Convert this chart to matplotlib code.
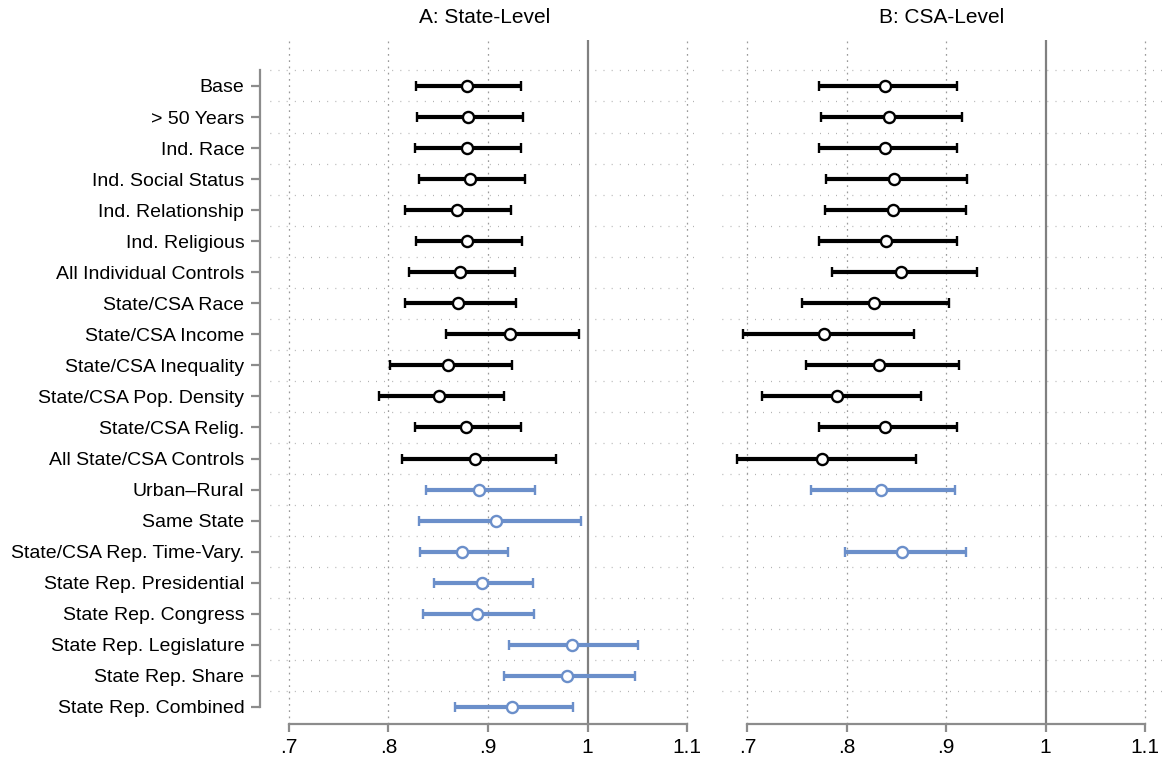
import numpy as np
import matplotlib
matplotlib.use('Agg')
import matplotlib.pyplot as plt

plt.rcParams['font.family'] = ['Liberation Sans', 'DejaVu Sans']

# Specification labels (top to bottom)
labels = ['Base', '> 50 Years', 'Ind. Race', 'Ind. Social Status', 'Ind. Relationship',
          'Ind. Religious', 'All Individual Controls', 'State/CSA Race', 'State/CSA Income',
          'State/CSA Inequality', 'State/CSA Pop. Density', 'State/CSA Relig.',
          'All State/CSA Controls', 'Urban\u2013Rural', 'Same State',
          'State/CSA Rep. Time-Vary.', 'State Rep. Presidential', 'State Rep. Congress',
          'State Rep. Legislature', 'State Rep. Share', 'State Rep. Combined']
# which specs are robustness checks (drawn in blue)
robust = [False] * 13 + [True] * 8

# Panel A: state-level estimates and 95% CI
state_est = [0.879, 0.880, 0.879, 0.882, 0.869, 0.879, 0.872, 0.870, 0.922, 0.860, 0.851,
             0.878, 0.887, 0.891, 0.908, 0.874, 0.894, 0.889, 0.984, 0.979, 0.924]
state_lo = [0.828, 0.829, 0.827, 0.831, 0.817, 0.828, 0.821, 0.817, 0.858, 0.802, 0.791,
            0.827, 0.814, 0.838, 0.831, 0.832, 0.846, 0.835, 0.921, 0.916, 0.867]
state_hi = [0.933, 0.935, 0.933, 0.937, 0.923, 0.934, 0.927, 0.928, 0.991, 0.924, 0.916,
            0.933, 0.968, 0.947, 0.993, 0.920, 0.945, 0.946, 1.051, 1.048, 0.985]

# Panel B: CSA-level estimates (nan = not estimated)
nan = np.nan
csa_est = [0.838, 0.842, 0.838, 0.847, 0.846, 0.839, 0.855, 0.827, 0.777, 0.832, 0.790,
           0.838, 0.775, 0.834, nan, 0.856, nan, nan, nan, nan, nan]
csa_lo = [0.772, 0.774, 0.772, 0.779, 0.778, 0.772, 0.785, 0.755, 0.696, 0.759, 0.715,
          0.772, 0.690, 0.764, nan, 0.798, nan, nan, nan, nan, nan]
csa_hi = [0.911, 0.916, 0.911, 0.921, 0.920, 0.911, 0.931, 0.903, 0.868, 0.913, 0.875,
          0.911, 0.870, 0.909, nan, 0.920, nan, nan, nan, nan, nan]

xticks = [0.7, 0.8, 0.9, 1.0, 1.1]
xticklabels = ['.7', '.8', '.9', '1', '1.1']

BLUE = '#6b8fca'
GRID = '#9a9a9a'
AXC = '#8c8c8c'
FS = 14

W, H = 1162, 766
fig = plt.figure(figsize=(W / 100, H / 100), dpi=100)
y_top, y_bot = 40, 724
axA = fig.add_axes([270 / W, 1 - y_bot / H, 430 / W, (y_bot - y_top) / H])
axB = fig.add_axes([722 / W, 1 - y_bot / H, 440 / W, (y_bot - y_top) / H])

ypos = np.arange(1, len(labels) + 1)


def draw_panel(ax, est, lo, hi, xlim, title):
    ax.set_xlim(*xlim)
    ax.set_ylim(21.55, -0.48)
    for s in ax.spines.values():
        s.set_visible(False)

    # dotted grid
    for yy in np.arange(0.5, 21, 1.0):
        ax.axhline(yy, color=GRID, lw=0.9, ls=(0, (0.6, 5.9)), zorder=0)
    for xx in [0.7, 0.8, 0.9, 1.1]:
        ax.axvline(xx, color=GRID, lw=0.9, ls=(0, (1.4, 3.6)), zorder=0)
    ax.axvline(1.0, color='#808080', lw=1.6, zorder=1)

    est = np.array(est)
    lo = np.array(lo)
    hi = np.array(hi)
    for flag, col in [(False, 'black'), (True, BLUE)]:
        m = (np.array(robust) == flag) & ~np.isnan(est)
        if not m.any():
            continue
        ax.errorbar(est[m], ypos[m], xerr=[est[m] - lo[m], hi[m] - est[m]],
                    fmt='o', color=col, ms=8, mfc='white', mec=col, mew=1.7,
                    ecolor=col, elinewidth=3, capsize=3.6, capthick=2.6, zorder=3)

    ax.spines['bottom'].set_visible(True)
    ax.spines['bottom'].set_color(AXC)
    ax.spines['bottom'].set_linewidth(1.6)
    ax.spines['bottom'].set_bounds(0.7, 1.1)
    ax.set_xticks(xticks)
    ax.set_xticklabels(xticklabels, fontsize=FS + 1)
    ax.tick_params(axis='x', length=6, width=1.6, color=AXC, pad=4)
    ax.set_title(title, fontsize=FS + 1, pad=12)


draw_panel(axA, state_est, state_lo, state_hi, (0.681, 1.113), 'A: State-Level')
draw_panel(axB, csa_est, csa_lo, csa_hi, (0.6745, 1.117), 'B: CSA-Level')

axA.spines['left'].set_visible(True)
axA.spines['left'].set_position(('outward', 7))
axA.spines['left'].set_color(AXC)
axA.spines['left'].set_linewidth(1.6)
axA.spines['left'].set_bounds(0.5, 21)
axA.set_yticks(ypos)
axA.set_yticklabels(labels, fontsize=FS)
axA.tick_params(axis='y', length=6.5, width=1.6, color=AXC, pad=5)

axB.set_yticks([])

fig.savefig('out.png', dpi=100)
